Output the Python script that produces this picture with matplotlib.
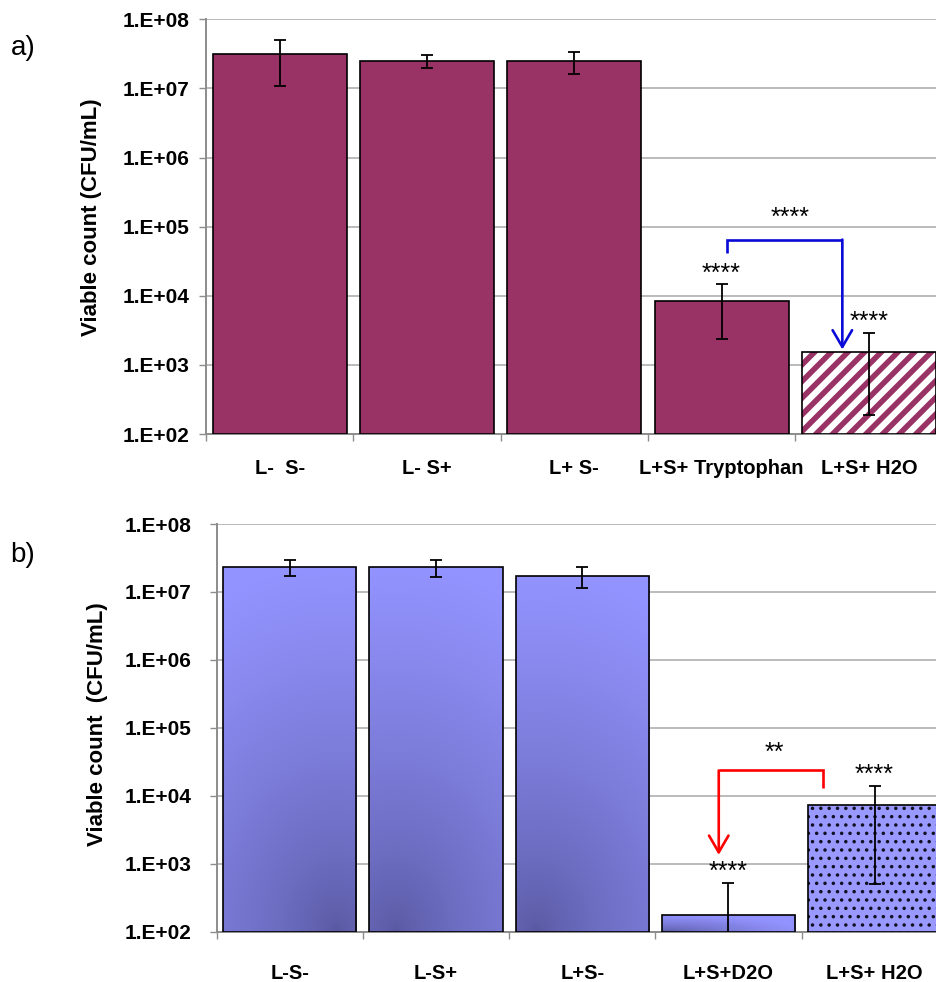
import numpy as np
import matplotlib
matplotlib.use("Agg")
import matplotlib.pyplot as plt
from matplotlib.ticker import FixedLocator, NullLocator

plt.rcParams['font.family'] = ['Liberation Sans', 'DejaVu Sans']

# ---------------- data ----------------
cats_a = ["L-  S-", "L- S+", "L+ S-", "L+S+ Tryptophan", "L+S+ H2O"]
vals_a = [3.1e7, 2.5e7, 2.5e7, 8.5e3, 1.56e3]
errs_a = [2.0e7, 0.5e7, 0.9e7, 6.1e3, 1.37e3]
stars_a = ["", "", "", "****", "****"]

cats_b = ["L-S-", "L-S+", "L+S-", "L+S+D2O", "L+S+ H2O"]
vals_b = [2.33e7, 2.33e7, 1.74e7, 177, 7.3e3]
errs_b = [0.63e7, 0.67e7, 0.6e7, 351, 6.8e3]
stars_b = ["", "", "", "****", "****"]

decades = [1e2, 1e3, 1e4, 1e5, 1e6, 1e7, 1e8]
decade_labels = ["1.E+02", "1.E+03", "1.E+04", "1.E+05", "1.E+06", "1.E+07", "1.E+08"]

# significance brackets: (x_left, x_right, y_left_end, y_top, y_right_end, label, label_x, label_y, arrow_side)
bracket_a = (3.04, 3.82, 4.1e4, 6.5e4, 1.67e3, "****", 3.465, 1.36e5, "right")
bracket_b = (2.934, 3.65, 1.35e3, 2.36e4, 1.31e4, "**", 3.317, 4.3e4, "left")

# ---------------- style ----------------
PLUM = "#993366"
PERI = "#9999FF"
LIGHT = np.array([147, 147, 255]) / 255.0
DARK = np.array([88, 88, 160]) / 255.0
GRID = "#A8A8A8"
SPINE = "#8C8C8C"
YMIN, YMAX = 1e2, 1e8
BAR_W = 0.91

fig = plt.figure(figsize=(9.36, 9.82), dpi=100)
W, H = 936.0, 982.0

ax_a = fig.add_axes([206 / W, 1 - 434 / H, 736.5 / W, (434 - 19.3) / H])
ax_b = fig.add_axes([216.7 / W, 1 - 931.7 / H, 731 / W, (931.7 - 524) / H])


def style_axes(ax, cats, ypad, xpad):
    ax.set_yscale("log")
    ax.set_ylim(YMIN, YMAX)
    ax.set_xlim(-0.5, len(cats) - 0.5)
    ax.set_autoscale_on(False)
    ax.yaxis.set_major_locator(FixedLocator(decades))
    ax.yaxis.set_minor_locator(NullLocator())
    ax.set_yticklabels(decade_labels, fontsize=15, fontweight="bold")
    ax.tick_params(axis="y", which="major", length=5, width=1, color=SPINE, pad=ypad)
    ax.set_xticks(np.arange(-0.5, len(cats)))
    ax.set_xticklabels([])
    ax.set_xticks(np.arange(len(cats)), minor=True)
    ax.set_xticklabels(cats, minor=True, fontsize=14.5, fontweight="bold")
    ax.tick_params(axis="x", which="major", length=5, width=1, color=SPINE)
    ax.tick_params(axis="x", which="minor", length=0, pad=xpad)
    ax.yaxis.grid(True, color=GRID, lw=1.1)
    ax.set_axisbelow(True)
    for s in ("top", "right"):
        ax.spines[s].set_visible(False)
    for s in ("left", "bottom"):
        ax.spines[s].set_color(SPINE)
        ax.spines[s].set_linewidth(1.4)


style_axes(ax_a, cats_a, 7, 18)
style_axes(ax_b, cats_b, 13.5, 23)

x = np.arange(len(cats_a))

# ---------------- panel a ----------------
heights_a = np.array(vals_a) - YMIN
solid = ax_a.bar(x[:4], heights_a[:4], width=BAR_W, bottom=YMIN, color=PLUM,
                 edgecolor="black", linewidth=1.2, zorder=3)
hb = ax_a.bar(x[4:], heights_a[4:], width=BAR_W, bottom=YMIN, color="white",
              edgecolor=PLUM, linewidth=0, hatch="//", zorder=3)
for p in hb:
    if hasattr(p, "set_hatch_linewidth"):
        p.set_hatch_linewidth(4.0)
ax_a.bar(x[4:], heights_a[4:], width=BAR_W, bottom=YMIN, color="none",
         edgecolor="black", linewidth=1.2, zorder=3.2)
ax_a.errorbar(x, vals_a, yerr=errs_a, fmt="none", ecolor="black", elinewidth=1.3,
              capsize=4.5, capthick=1.3, zorder=4)

# ---------------- panel b ----------------
heights_b = np.array(vals_b) - YMIN
grad_bars = ax_b.bar(x[:4], heights_b[:4], width=BAR_W, bottom=YMIN, color="none",
                     edgecolor="black", linewidth=1.2, zorder=3.2)
db = ax_b.bar(x[4:], heights_b[4:], width=BAR_W, bottom=YMIN, color=PERI,
              edgecolor="#111122", linewidth=0, hatch="..", zorder=3)
for p in db:
    if hasattr(p, "set_hatch_linewidth"):
        p.set_hatch_linewidth(1.3)
ax_b.bar(x[4:], heights_b[4:], width=BAR_W, bottom=YMIN, color="none",
         edgecolor="black", linewidth=1.2, zorder=3.2)

# radial-ish gradient fill for the plain bars
grad_params = [(0.35, 0.5), (-0.3, 0.5), (-0.35, 0.5), (-0.5, 0.95)]
inv = ax_b.transAxes.inverted()
for bar, (cx, kx) in zip(grad_bars, grad_params):
    bx0 = bar.get_x()
    bw = bar.get_width()
    top = bar.get_y() + bar.get_height()
    p0 = inv.transform(ax_b.transData.transform((bx0, YMIN)))
    p1 = inv.transform(ax_b.transData.transform((bx0 + bw, top)))
    u = np.linspace(-0.5, 0.5, 120)
    v = np.linspace(0, 1, 240)
    U, V = np.meshgrid(u, v)
    r = np.sqrt(((U - cx) * kx) ** 2 + V ** 2)
    f = np.clip(r, 0, 1) ** 0.7
    img = DARK + (LIGHT - DARK) * f[..., None]
    im = ax_b.imshow(img, extent=(p0[0], p1[0], p0[1], p1[1]), origin="lower",
                     transform=ax_b.transAxes, aspect="auto",
                     interpolation="bilinear", zorder=2.9)
    im.set_clip_path(bar)

ax_b.errorbar(x, vals_b, yerr=errs_b, fmt="none", ecolor="black", elinewidth=1.3,
              capsize=4.5, capthick=1.3, zorder=4)
ax_b.set_xlim(-0.5, 4.5)
ax_b.set_ylim(YMIN, YMAX)

# ---------------- star annotations ----------------
for ax, vals, errs, stars in ((ax_a, vals_a, errs_a, stars_a), (ax_b, vals_b, errs_b, stars_b)):
    for i, (v, e, s) in enumerate(zip(vals, errs, stars)):
        if s:
            ax.annotate(s, xy=(i, v + e), xytext=(0, -1), textcoords="offset points",
                        ha="center", va="bottom", fontsize=18, zorder=5)


def draw_bracket(ax, br, color):
    xl, xr, yl, yt, yr, lab, lx, ly, side = br
    lw = 1.9
    if side == "right":
        ax.plot([xl, xl, xr], [yl, yt, yt], color=color, lw=lw, zorder=5,
                solid_joinstyle="miter", solid_capstyle="butt")
        ax.annotate("", xy=(xr, yr), xytext=(xr, yt),
                    arrowprops=dict(arrowstyle="->,head_length=0.6,head_width=0.35",
                                    color=color, lw=lw, shrinkA=0, shrinkB=0,
                                    mutation_scale=20), zorder=5)
    else:
        ax.plot([xl, xr, xr], [yt, yt, yr], color=color, lw=lw, zorder=5,
                solid_joinstyle="miter", solid_capstyle="butt")
        ax.annotate("", xy=(xl, yl), xytext=(xl, yt),
                    arrowprops=dict(arrowstyle="->,head_length=0.6,head_width=0.35",
                                    color=color, lw=lw, shrinkA=0, shrinkB=0,
                                    mutation_scale=20), zorder=5)
    ax.text(lx, ly, lab, ha="center", va="center", fontsize=18, zorder=5)


draw_bracket(ax_a, bracket_a, "#0A0AD8")
draw_bracket(ax_b, bracket_b, "#FF0000")

# ---------------- labels ----------------
fig.text(91 / W, 1 - 217 / H, "Viable count (CFU/mL)", rotation=90, ha="center",
         va="center", fontsize=16, fontweight="bold")
fig.text(97 / W, 1 - 724 / H, "Viable count  (CFU/mL)", rotation=90, ha="center",
         va="center", fontsize=16, fontweight="bold")
fig.text(23 / W, 1 - 48 / H, "a)", ha="center", va="center", fontsize=20)
fig.text(23 / W, 1 - 555 / H, "b)", ha="center", va="center", fontsize=20)

fig.savefig("out.png", dpi=100)
